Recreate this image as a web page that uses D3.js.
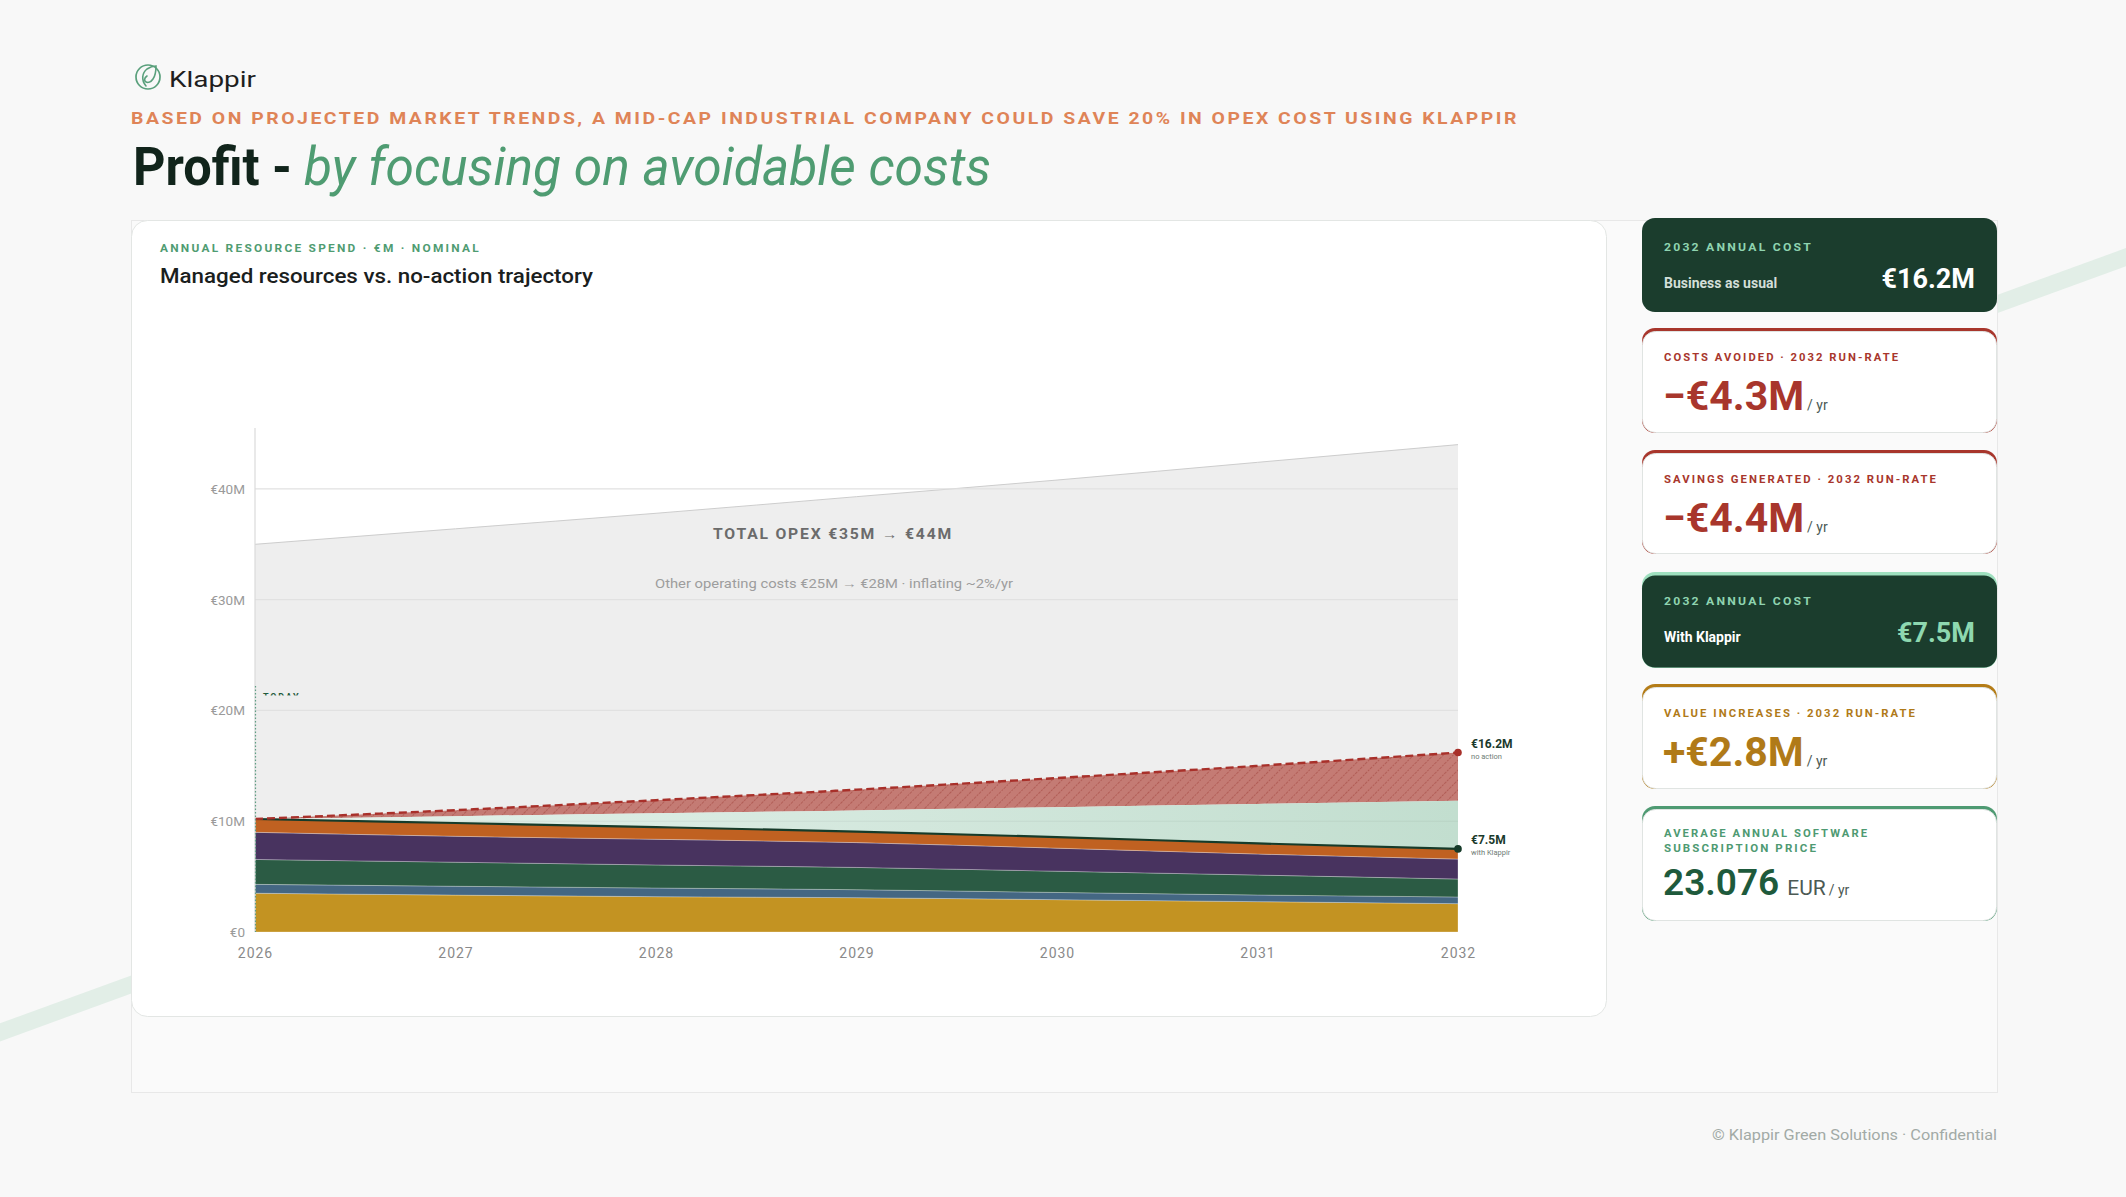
<!DOCTYPE html>
<html>
<head>
<meta charset="utf-8">
<script src="https://cdn.jsdelivr.net/npm/d3@7/dist/d3.min.js"></script>
<style>
  html, body { margin: 0; padding: 0; background: #f8f8f8; }
  svg { display: block; }
  text { font-family: Roboto, "Noto Sans", sans-serif; }
</style>
</head>
<body>
<svg id="root" width="2126" height="1197"></svg>
<script>
// ---------------- DATA ----------------
const years = [2026, 2027, 2028, 2029, 2030, 2031, 2032];
const totalOpex = [35.0, 36.4, 37.8, 39.3, 40.8, 42.4, 44.0];          // €M, total opex
const noActionTrajectory = [10.2, 11.0, 11.9, 12.85, 13.9, 15.0, 16.2]; // €M, resource spend with no action
const baselineTrend = [10.2, 10.46, 10.72, 10.98, 11.27, 11.55, 11.85]; // €M, top of savings band
const resourceKeys = ["resource1", "resource2", "resource3", "resource4", "resource5"];
const resource1 = [3.5, 3.33, 3.19, 3.1, 2.92, 2.74, 2.56];
const resource2 = [0.8, 0.8, 0.78, 0.72, 0.65, 0.6, 0.6];
const resource3 = [2.25, 2.17, 2.08, 2.01, 1.92, 1.8, 1.62];
const resource4 = [2.45, 2.34, 2.32, 2.24, 2.08, 1.9, 1.8];
const resource5 = [1.2, 1.2, 1.1, 1.0, 1.0, 0.96, 0.92];
const yTicks = [0, 10, 20, 30, 40];
const yTickLabels = ["€0", "€10M", "€20M", "€30M", "€40M"];
const endLabels = ["€16.2M", "€7.5M"];
const endSubLabels = ["no action", "with Klappir"];

const cardLabels = ["2032 ANNUAL COST", "COSTS AVOIDED · 2032 RUN-RATE", "SAVINGS GENERATED · 2032 RUN-RATE",
                    "2032 ANNUAL COST", "VALUE INCREASES · 2032 RUN-RATE", "AVERAGE ANNUAL SOFTWARE|SUBSCRIPTION PRICE"];
const cardValues = ["€16.2M", "−€4.3M", "−€4.4M", "€7.5M", "+€2.8M", "23.076"];
const cardSubs = ["Business as usual", "", "", "With Klappir", "", ""];

// ---------------- BUILD TABLE ----------------
const series = [resource1, resource2, resource3, resource4, resource5];
const table = years.map((y, i) => {
  const o = { year: y, total: totalOpex[i], noAction: noActionTrajectory[i], trend: baselineTrend[i] };
  resourceKeys.forEach((k, j) => o[k] = series[j][i]);
  o.klappir = d3.sum(series, s => s[i]);
  return o;
});

const svg = d3.select("#root");
const defs = svg.append("defs");

// background
svg.append("rect").attr("width", 2126).attr("height", 1197).attr("fill", "#f8f8f8");
svg.append("line").attr("x1", -10).attr("y1", 1036).attr("x2", 2140).attr("y2", 252)
  .attr("stroke", "#e2eee7").attr("stroke-width", 17);

// outer panel
svg.append("rect").attr("x", 131.5).attr("y", 220.5).attr("width", 1866).attr("height", 872)
  .attr("fill", "#fafafa").attr("stroke", "#e8e8e8");

// ---------------- HEADER ----------------
const logo = svg.append("g");
logo.append("circle").attr("cx", 148).attr("cy", 77).attr("r", 12)
  .attr("fill", "none").attr("stroke", "#5aa07c").attr("stroke-width", 1.7);
logo.append("path")
  .attr("d", "M146,86 C141,80 142,73 147,69 C150,67 154,66 156,66 C156,70 156,75 153,79 C151,82 148,83 146,82 C144,81 144,78 147,76")
  .attr("fill", "none").attr("stroke", "#5aa07c").attr("stroke-width", 1.6).attr("stroke-linecap", "round");
logo.append("text").attr("x", 169).attr("y", 87).attr("font-size", 22).attr("font-weight", 400)
  .attr("fill", "#1e1e1e").attr("textLength", 87).attr("lengthAdjust", "spacingAndGlyphs").text("Klappir");

svg.append("text").attr("x", 131).attr("y", 124).attr("font-size", 17).attr("font-weight", 700)
  .attr("fill", "#df8457").attr("letter-spacing", 2.2)
  .attr("textLength", 1388).attr("lengthAdjust", "spacingAndGlyphs")
  .text("BASED ON PROJECTED MARKET TRENDS, A MID-CAP INDUSTRIAL COMPANY COULD SAVE 20% IN OPEX COST USING KLAPPIR");

svg.append("text").attr("x", 133).attr("y", 185).attr("font-size", 54).attr("font-weight", 700)
  .attr("fill", "#11241b").attr("textLength", 159).attr("lengthAdjust", "spacingAndGlyphs").text("Profit -");
svg.append("text").attr("x", 304).attr("y", 185).attr("font-size", 54).attr("font-weight", 400)
  .attr("font-style", "italic").attr("fill", "#4f9c72")
  .attr("textLength", 687).attr("lengthAdjust", "spacingAndGlyphs").text("by focusing on avoidable costs");

// ---------------- CHART CARD ----------------
svg.append("rect").attr("x", 131.5).attr("y", 220.5).attr("width", 1475).attr("height", 796).attr("rx", 16)
  .attr("fill", "#ffffff").attr("stroke", "#e3e6e4");
svg.append("text").attr("x", 160).attr("y", 252).attr("font-size", 10.5).attr("font-weight", 700)
  .attr("fill", "#4f9c72").attr("letter-spacing", 2).attr("textLength", 321).attr("lengthAdjust", "spacingAndGlyphs")
  .text("ANNUAL RESOURCE SPEND · €M · NOMINAL");
svg.append("text").attr("x", 160).attr("y", 283).attr("font-size", 21).attr("font-weight", 500)
  .attr("fill", "#1a201d").attr("textLength", 433).attr("lengthAdjust", "spacingAndGlyphs")
  .text("Managed resources vs. no-action trajectory");

// scales
const x = d3.scaleLinear().domain([2026, 2032]).range([255, 1458]);
const y = d3.scaleLinear().domain([0, 45.5]).range([932, 428]);

// gradients & patterns
const mint = defs.append("linearGradient").attr("id", "mint").attr("gradientUnits", "userSpaceOnUse")
  .attr("x1", x(2026)).attr("x2", x(2032)).attr("y1", 0).attr("y2", 0);
mint.append("stop").attr("offset", 0).attr("stop-color", "#e6f2ec");
mint.append("stop").attr("offset", 1).attr("stop-color", "#c2decf");

const hatch = defs.append("pattern").attr("id", "hatch").attr("patternUnits", "userSpaceOnUse")
  .attr("width", 7).attr("height", 7).attr("patternTransform", "rotate(45)");
hatch.append("rect").attr("width", 7).attr("height", 7).attr("fill", "#c47b74");
hatch.append("line").attr("x1", 0).attr("y1", 0).attr("x2", 0).attr("y2", 7)
  .attr("stroke", "#a4463e").attr("stroke-width", 1.1).attr("stroke-dasharray", "2,1");

const plot = svg.append("g");

// total opex area
plot.append("path").datum(table)
  .attr("d", d3.area().x(d => x(d.year)).y0(y(0)).y1(d => y(d.total)).curve(d3.curveMonotoneX))
  .attr("fill", "#eeeeee");
plot.append("path").datum(table)
  .attr("d", d3.line().x(d => x(d.year)).y(d => y(d.total)).curve(d3.curveMonotoneX))
  .attr("fill", "none").attr("stroke", "#cdcdcd").attr("stroke-width", 1);

// gridlines
plot.append("g").selectAll("line").data(yTicks.filter(t => t > 0)).join("line")
  .attr("x1", x(2026)).attr("x2", x(2032)).attr("y1", d => y(d)).attr("y2", d => y(d))
  .attr("stroke", "#e1e1e1").attr("stroke-width", 1.2);

// no-action hatched band (costs avoided)
plot.append("path").datum(table)
  .attr("d", d3.area().x(d => x(d.year)).y0(d => y(d.trend)).y1(d => y(d.noAction)).curve(d3.curveMonotoneX))
  .attr("fill", "url(#hatch)");

// savings band (mint)
plot.append("path").datum(table)
  .attr("d", d3.area().x(d => x(d.year)).y0(d => y(d.klappir)).y1(d => y(d.trend)).curve(d3.curveMonotoneX))
  .attr("fill", "url(#mint)");

// gridline faint over mint
plot.append("line").attr("x1", x(2026)).attr("x2", x(2032)).attr("y1", y(10)).attr("y2", y(10))
  .attr("stroke", "#000").attr("stroke-opacity", 0.05).attr("stroke-width", 1.2);

// stacked resources
const stack = d3.stack().keys(resourceKeys)(table);
const colors = d3.scaleOrdinal().domain(resourceKeys)
  .range(["#c39322", "#446783", "#2b5b44", "#48335f", "#c06121"]);
plot.append("g").selectAll("path").data(stack).join("path")
  .attr("d", d3.area().x(d => x(d.data.year)).y0(d => y(d[0])).y1(d => y(d[1])).curve(d3.curveMonotoneX))
  .attr("fill", d => colors(d.key))
  .attr("stroke", "rgba(255,255,255,0.28)").attr("stroke-width", 1);

// with-Klappir line
plot.append("path").datum(table)
  .attr("d", d3.line().x(d => x(d.year)).y(d => y(d.klappir)).curve(d3.curveMonotoneX))
  .attr("fill", "none").attr("stroke", "#163b2a").attr("stroke-width", 2.2);
// no-action dashed line
plot.append("path").datum(table)
  .attr("d", d3.line().x(d => x(d.year)).y(d => y(d.noAction)).curve(d3.curveMonotoneX))
  .attr("fill", "none").attr("stroke", "#a8302a").attr("stroke-width", 2.4).attr("stroke-dasharray", "8,4");

// axes
plot.append("line").attr("x1", x(2026)).attr("x2", x(2026)).attr("y1", y(45.5)).attr("y2", y(0))
  .attr("stroke", "#dadada").attr("stroke-width", 1.2);

const yAxis = d3.axisLeft(y).tickValues(yTicks).tickFormat((d, i) => yTickLabels[i]).tickSize(0).tickPadding(10);
const ya = plot.append("g").attr("transform", `translate(${x(2026)},0)`).call(yAxis);
ya.select(".domain").remove();
ya.selectAll("text").attr("font-size", 13.5).attr("fill", "#9a9a9a").attr("font-family", "Roboto, sans-serif");

const xAxis = d3.axisBottom(x).tickValues(years).tickFormat(d3.format("d")).tickSize(0).tickPadding(16);
const xa = plot.append("g").attr("transform", `translate(0,${y(0)})`).call(xAxis);
xa.select(".domain").remove();
xa.selectAll("text").attr("font-size", 14).attr("fill", "#8a8a8a").attr("letter-spacing", 1)
  .attr("font-family", "Roboto, sans-serif");

// TODAY marker
plot.append("line").attr("x1", x(2026) + 0.5).attr("x2", x(2026) + 0.5).attr("y1", 686).attr("y2", y(0))
  .attr("stroke", "#5f9e84").attr("stroke-width", 1.2).attr("stroke-dasharray", "1.5,2");
defs.append("clipPath").attr("id", "todayClip").append("rect")
  .attr("x", 255).attr("y", 680).attr("width", 80).attr("height", 15.5);
plot.append("text").attr("x", 263).attr("y", 700).attr("font-size", 9).attr("font-weight", 700)
  .attr("fill", "#1f5a3c").attr("letter-spacing", 1.8).attr("clip-path", "url(#todayClip)").text("TODAY");

// annotations
plot.append("text").attr("x", 833).attr("y", 539).attr("text-anchor", "middle")
  .attr("font-size", 14).attr("font-weight", 700).attr("fill", "#6b6b6b").attr("letter-spacing", 1.6)
  .attr("textLength", 240).attr("lengthAdjust", "spacingAndGlyphs")
  .text("TOTAL OPEX €35M → €44M");
plot.append("text").attr("x", 834).attr("y", 588).attr("text-anchor", "middle")
  .attr("font-size", 13).attr("fill", "#9d9d9d")
  .attr("textLength", 358).attr("lengthAdjust", "spacingAndGlyphs")
  .text("Other operating costs €25M → €28M · inflating ~2%/yr");

// end dots & labels
const last = table[table.length - 1];
const endVals = [last.noAction, last.klappir];
const endColors = ["#a8302a", "#163b2a"];
endVals.forEach((v, i) => {
  plot.append("circle").attr("cx", x(2032)).attr("cy", y(v)).attr("r", 3.8).attr("fill", endColors[i]);
  plot.append("text").attr("x", 1471).attr("y", y(v) - 5).attr("font-size", 12).attr("font-weight", 700)
    .attr("fill", "#1b3a2c").text(endLabels[i]);
  plot.append("text").attr("x", 1471).attr("y", y(v) + 6).attr("font-size", 7.5)
    .attr("fill", "#6e7b74").text(endSubLabels[i]);
});

// ---------------- RIGHT CARDS ----------------
const cardTops = [218, 328, 450, 572, 684, 806];
const cardHeights = [94, 105, 104, 96, 105, 115];
const cardKinds = ["dark", "light", "light", "dark", "light", "light"];
const cardBands = [null, "#a8362c", "#a8362c", "#9fe0bf", "#b47c17", "#4e9a72"];
const cardLabelColors = ["#8fd4b0", "#a8362c", "#a8362c", "#8fd4b0", "#b07a18", "#4e9a72"];
const cardValueColors = ["#ffffff", "#a8362c", "#a8362c", "#8ed8b0", "#b07a18", "#1e5a3c"];
const labelWidths = [149, 236, 274, 149, 253, 205];

const cx0 = 1642, cw = 355;
cardTops.forEach((top, i) => {
  const g = svg.append("g");
  const h = cardHeights[i];
  const dark = cardKinds[i] === "dark";
  if (cardBands[i]) {
    g.append("rect").attr("x", cx0).attr("y", top).attr("width", cw).attr("height", h).attr("rx", 13)
      .attr("fill", cardBands[i]);
    g.append("rect").attr("x", cx0 + (dark ? 0 : 0.5)).attr("y", top + 3.5).attr("width", cw - (dark ? 0 : 1))
      .attr("height", h - 4).attr("rx", 13)
      .attr("fill", dark ? "#1b3d2d" : "#ffffff").attr("stroke", dark ? "none" : "#e0e4e2");
  } else {
    g.append("rect").attr("x", cx0).attr("y", top).attr("width", cw).attr("height", h).attr("rx", 13)
      .attr("fill", "#1b3d2d");
  }
  const lbl = cardLabels[i].split("|");
  lbl.forEach((l, k) => {
    g.append("text").attr("x", 1664).attr("y", top + (dark ? 33 : (lbl.length > 1 ? 31 : 33)) + k * 15)
      .attr("font-size", 11).attr("font-weight", 700).attr("fill", cardLabelColors[i])
      .attr("letter-spacing", 2).attr("textLength", k === 0 ? labelWidths[i] : 154)
      .attr("lengthAdjust", "spacingAndGlyphs").text(l);
  });
  if (dark) {
    g.append("text").attr("x", 1664).attr("y", top + 70).attr("font-size", 14).attr("font-weight", 700)
      .attr("fill", i === 0 ? "#d3dfd8" : "#ffffff").text(cardSubs[i]);
    g.append("text").attr("x", 1975).attr("y", top + 70).attr("text-anchor", "end")
      .attr("font-size", 27).attr("font-weight", 700).attr("fill", cardValueColors[i]).text(cardValues[i]);
  } else if (i === 5) {
    const v = g.append("text").attr("x", 1663).attr("y", top + 89);
    v.append("tspan").attr("font-size", 37).attr("font-weight", 600).attr("fill", cardValueColors[i]).text(cardValues[i]);
    v.append("tspan").attr("dx", 8).attr("font-size", 21).attr("fill", "#4c5a54").text("EUR");
    v.append("tspan").attr("dx", 3).attr("font-size", 14).attr("fill", "#4c5a54").text("/ yr");
  } else {
    const v = g.append("text").attr("x", 1663).attr("y", top + 82);
    v.append("tspan").attr("font-size", 41).attr("font-weight", 700).attr("fill", cardValueColors[i]).text(cardValues[i]);
    v.append("tspan").attr("dx", 3).attr("font-size", 14).attr("fill", "#4c5a54").text("/ yr");
  }
});

// footer
svg.append("text").attr("x", 1997).attr("y", 1140).attr("text-anchor", "end")
  .attr("font-size", 15.5).attr("fill", "#a2aaa6").attr("textLength", 285).attr("lengthAdjust", "spacingAndGlyphs")
  .text("© Klappir Green Solutions · Confidential");
</script>
</body>
</html>
